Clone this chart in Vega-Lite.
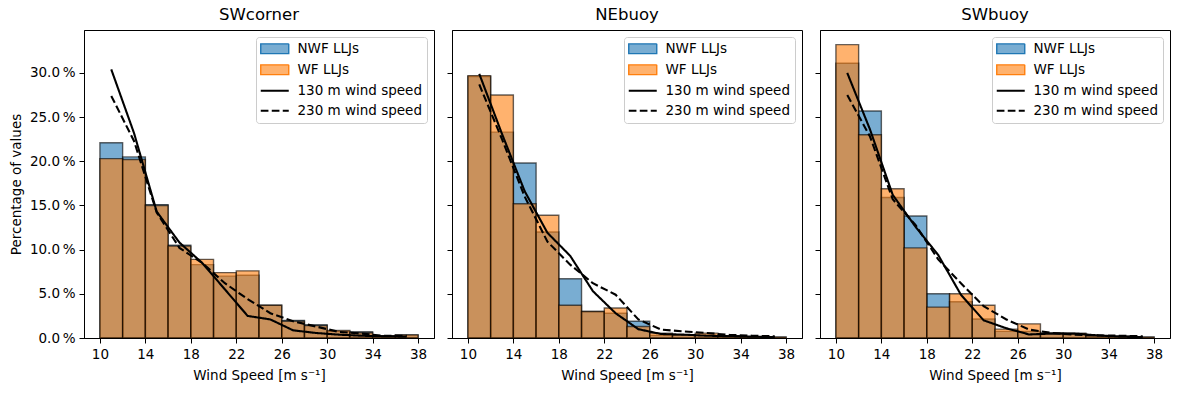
{
  "$schema": "https://vega.github.io/schema/vega-lite/v6.json",
  "padding": {"left": 8, "top": 6, "right": 5, "bottom": 5},
  "background": "white",
  "config": {
    "font": "DejaVu Sans",
    "view": {"stroke": "black", "strokeWidth": 1},
    "axis": {"grid": false, "labelFont": "DejaVu Sans", "titleFont": "DejaVu Sans", "labelFontSize": 13.5, "titleFontSize": 13.5, "titleFontWeight": "normal", "labelColor": "black", "titleColor": "black", "tickColor": "black", "domainColor": "black", "tickSize": 5, "labelPadding": 4, "domain": true},
    "title": {"font": "DejaVu Sans", "fontSize": 16.5, "fontWeight": "normal", "color": "black", "offset": 7},
    "legend": {"labelFont": "DejaVu Sans", "labelFontSize": 13.5, "labelColor": "black"}
  },
  "datasets": {
    "bars": [
      {"panel": "SWcorner", "series": "NWF LLJs", "x0": 10, "x1": 12, "pct": 22.1},
      {"panel": "SWcorner", "series": "NWF LLJs", "x0": 12, "x1": 14, "pct": 20.5},
      {"panel": "SWcorner", "series": "NWF LLJs", "x0": 14, "x1": 16, "pct": 15.1},
      {"panel": "SWcorner", "series": "NWF LLJs", "x0": 16, "x1": 18, "pct": 10.5},
      {"panel": "SWcorner", "series": "NWF LLJs", "x0": 18, "x1": 20, "pct": 8.3},
      {"panel": "SWcorner", "series": "NWF LLJs", "x0": 20, "x1": 22, "pct": 7.0},
      {"panel": "SWcorner", "series": "NWF LLJs", "x0": 22, "x1": 24, "pct": 7.1},
      {"panel": "SWcorner", "series": "NWF LLJs", "x0": 24, "x1": 26, "pct": 3.7},
      {"panel": "SWcorner", "series": "NWF LLJs", "x0": 26, "x1": 28, "pct": 2.0},
      {"panel": "SWcorner", "series": "NWF LLJs", "x0": 28, "x1": 30, "pct": 1.5},
      {"panel": "SWcorner", "series": "NWF LLJs", "x0": 30, "x1": 32, "pct": 0.75},
      {"panel": "SWcorner", "series": "NWF LLJs", "x0": 32, "x1": 34, "pct": 0.7},
      {"panel": "SWcorner", "series": "NWF LLJs", "x0": 34, "x1": 36, "pct": 0.25},
      {"panel": "SWcorner", "series": "NWF LLJs", "x0": 36, "x1": 38, "pct": 0.35},
      {"panel": "SWcorner", "series": "WF LLJs", "x0": 10, "x1": 12, "pct": 20.3},
      {"panel": "SWcorner", "series": "WF LLJs", "x0": 12, "x1": 14, "pct": 20.2},
      {"panel": "SWcorner", "series": "WF LLJs", "x0": 14, "x1": 16, "pct": 15.0},
      {"panel": "SWcorner", "series": "WF LLJs", "x0": 16, "x1": 18, "pct": 10.4},
      {"panel": "SWcorner", "series": "WF LLJs", "x0": 18, "x1": 20, "pct": 8.9},
      {"panel": "SWcorner", "series": "WF LLJs", "x0": 20, "x1": 22, "pct": 7.4},
      {"panel": "SWcorner", "series": "WF LLJs", "x0": 22, "x1": 24, "pct": 7.6},
      {"panel": "SWcorner", "series": "WF LLJs", "x0": 24, "x1": 26, "pct": 3.7},
      {"panel": "SWcorner", "series": "WF LLJs", "x0": 26, "x1": 28, "pct": 1.9},
      {"panel": "SWcorner", "series": "WF LLJs", "x0": 28, "x1": 30, "pct": 1.4},
      {"panel": "SWcorner", "series": "WF LLJs", "x0": 30, "x1": 32, "pct": 0.85},
      {"panel": "SWcorner", "series": "WF LLJs", "x0": 32, "x1": 34, "pct": 0.6},
      {"panel": "SWcorner", "series": "WF LLJs", "x0": 34, "x1": 36, "pct": 0.25},
      {"panel": "SWcorner", "series": "WF LLJs", "x0": 36, "x1": 38, "pct": 0.35},

      {"panel": "NEbuoy", "series": "NWF LLJs", "x0": 10, "x1": 12, "pct": 29.6},
      {"panel": "NEbuoy", "series": "NWF LLJs", "x0": 12, "x1": 14, "pct": 23.3},
      {"panel": "NEbuoy", "series": "NWF LLJs", "x0": 14, "x1": 16, "pct": 19.8},
      {"panel": "NEbuoy", "series": "NWF LLJs", "x0": 16, "x1": 18, "pct": 12.0},
      {"panel": "NEbuoy", "series": "NWF LLJs", "x0": 18, "x1": 20, "pct": 6.7},
      {"panel": "NEbuoy", "series": "NWF LLJs", "x0": 20, "x1": 22, "pct": 3.0},
      {"panel": "NEbuoy", "series": "NWF LLJs", "x0": 22, "x1": 24, "pct": 2.8},
      {"panel": "NEbuoy", "series": "NWF LLJs", "x0": 24, "x1": 26, "pct": 1.9},
      {"panel": "NEbuoy", "series": "NWF LLJs", "x0": 26, "x1": 28, "pct": 0.3},
      {"panel": "NEbuoy", "series": "NWF LLJs", "x0": 28, "x1": 30, "pct": 0.35},
      {"panel": "NEbuoy", "series": "NWF LLJs", "x0": 30, "x1": 32, "pct": 0.3},
      {"panel": "NEbuoy", "series": "NWF LLJs", "x0": 32, "x1": 34, "pct": 0.25},
      {"panel": "NEbuoy", "series": "NWF LLJs", "x0": 34, "x1": 36, "pct": 0.15},
      {"panel": "NEbuoy", "series": "NWF LLJs", "x0": 36, "x1": 38, "pct": 0.1},
      {"panel": "NEbuoy", "series": "WF LLJs", "x0": 10, "x1": 12, "pct": 29.7},
      {"panel": "NEbuoy", "series": "WF LLJs", "x0": 12, "x1": 14, "pct": 27.5},
      {"panel": "NEbuoy", "series": "WF LLJs", "x0": 14, "x1": 16, "pct": 15.2},
      {"panel": "NEbuoy", "series": "WF LLJs", "x0": 16, "x1": 18, "pct": 13.9},
      {"panel": "NEbuoy", "series": "WF LLJs", "x0": 18, "x1": 20, "pct": 3.7},
      {"panel": "NEbuoy", "series": "WF LLJs", "x0": 20, "x1": 22, "pct": 3.0},
      {"panel": "NEbuoy", "series": "WF LLJs", "x0": 22, "x1": 24, "pct": 3.4},
      {"panel": "NEbuoy", "series": "WF LLJs", "x0": 24, "x1": 26, "pct": 1.3},
      {"panel": "NEbuoy", "series": "WF LLJs", "x0": 26, "x1": 28, "pct": 0.55},
      {"panel": "NEbuoy", "series": "WF LLJs", "x0": 28, "x1": 30, "pct": 0.35},
      {"panel": "NEbuoy", "series": "WF LLJs", "x0": 30, "x1": 32, "pct": 0.55},
      {"panel": "NEbuoy", "series": "WF LLJs", "x0": 32, "x1": 34, "pct": 0.25},
      {"panel": "NEbuoy", "series": "WF LLJs", "x0": 34, "x1": 36, "pct": 0.15},
      {"panel": "NEbuoy", "series": "WF LLJs", "x0": 36, "x1": 38, "pct": 0.1},

      {"panel": "SWbuoy", "series": "NWF LLJs", "x0": 10, "x1": 12, "pct": 31.1},
      {"panel": "SWbuoy", "series": "NWF LLJs", "x0": 12, "x1": 14, "pct": 25.7},
      {"panel": "SWbuoy", "series": "NWF LLJs", "x0": 14, "x1": 16, "pct": 15.9},
      {"panel": "SWbuoy", "series": "NWF LLJs", "x0": 16, "x1": 18, "pct": 13.8},
      {"panel": "SWbuoy", "series": "NWF LLJs", "x0": 18, "x1": 20, "pct": 5.0},
      {"panel": "SWbuoy", "series": "NWF LLJs", "x0": 20, "x1": 22, "pct": 4.1},
      {"panel": "SWbuoy", "series": "NWF LLJs", "x0": 22, "x1": 24, "pct": 2.15},
      {"panel": "SWbuoy", "series": "NWF LLJs", "x0": 24, "x1": 26, "pct": 0.75},
      {"panel": "SWbuoy", "series": "NWF LLJs", "x0": 26, "x1": 28, "pct": 0.75},
      {"panel": "SWbuoy", "series": "NWF LLJs", "x0": 28, "x1": 30, "pct": 0.55},
      {"panel": "SWbuoy", "series": "NWF LLJs", "x0": 30, "x1": 32, "pct": 0.5},
      {"panel": "SWbuoy", "series": "NWF LLJs", "x0": 32, "x1": 34, "pct": 0.25},
      {"panel": "SWbuoy", "series": "NWF LLJs", "x0": 34, "x1": 36, "pct": 0.2},
      {"panel": "SWbuoy", "series": "NWF LLJs", "x0": 36, "x1": 38, "pct": 0.1},
      {"panel": "SWbuoy", "series": "WF LLJs", "x0": 10, "x1": 12, "pct": 33.2},
      {"panel": "SWbuoy", "series": "WF LLJs", "x0": 12, "x1": 14, "pct": 23.0},
      {"panel": "SWbuoy", "series": "WF LLJs", "x0": 14, "x1": 16, "pct": 16.9},
      {"panel": "SWbuoy", "series": "WF LLJs", "x0": 16, "x1": 18, "pct": 10.2},
      {"panel": "SWbuoy", "series": "WF LLJs", "x0": 18, "x1": 20, "pct": 3.5},
      {"panel": "SWbuoy", "series": "WF LLJs", "x0": 20, "x1": 22, "pct": 5.0},
      {"panel": "SWbuoy", "series": "WF LLJs", "x0": 22, "x1": 24, "pct": 3.7},
      {"panel": "SWbuoy", "series": "WF LLJs", "x0": 24, "x1": 26, "pct": 1.0},
      {"panel": "SWbuoy", "series": "WF LLJs", "x0": 26, "x1": 28, "pct": 1.6},
      {"panel": "SWbuoy", "series": "WF LLJs", "x0": 28, "x1": 30, "pct": 0.55},
      {"panel": "SWbuoy", "series": "WF LLJs", "x0": 30, "x1": 32, "pct": 0.55},
      {"panel": "SWbuoy", "series": "WF LLJs", "x0": 32, "x1": 34, "pct": 0.25},
      {"panel": "SWbuoy", "series": "WF LLJs", "x0": 34, "x1": 36, "pct": 0.2},
      {"panel": "SWbuoy", "series": "WF LLJs", "x0": 36, "x1": 38, "pct": 0.1}
    ],
    "lines": [
      {"panel": "SWcorner", "series": "130 m wind speed", "x": 11, "pct": 30.4},
      {"panel": "SWcorner", "series": "130 m wind speed", "x": 13, "pct": 23.2},
      {"panel": "SWcorner", "series": "130 m wind speed", "x": 15, "pct": 14.3},
      {"panel": "SWcorner", "series": "130 m wind speed", "x": 17, "pct": 10.8},
      {"panel": "SWcorner", "series": "130 m wind speed", "x": 19, "pct": 8.5},
      {"panel": "SWcorner", "series": "130 m wind speed", "x": 21, "pct": 5.5},
      {"panel": "SWcorner", "series": "130 m wind speed", "x": 23, "pct": 2.5},
      {"panel": "SWcorner", "series": "130 m wind speed", "x": 25, "pct": 2.1},
      {"panel": "SWcorner", "series": "130 m wind speed", "x": 27, "pct": 0.87},
      {"panel": "SWcorner", "series": "130 m wind speed", "x": 29, "pct": 0.57},
      {"panel": "SWcorner", "series": "130 m wind speed", "x": 31, "pct": 0.38},
      {"panel": "SWcorner", "series": "130 m wind speed", "x": 33, "pct": 0.26},
      {"panel": "SWcorner", "series": "130 m wind speed", "x": 35, "pct": 0.18},
      {"panel": "SWcorner", "series": "130 m wind speed", "x": 37, "pct": 0.15},
      {"panel": "SWcorner", "series": "230 m wind speed", "x": 11, "pct": 27.4},
      {"panel": "SWcorner", "series": "230 m wind speed", "x": 13, "pct": 22.3},
      {"panel": "SWcorner", "series": "230 m wind speed", "x": 15, "pct": 14.2},
      {"panel": "SWcorner", "series": "230 m wind speed", "x": 17, "pct": 10.2},
      {"panel": "SWcorner", "series": "230 m wind speed", "x": 19, "pct": 8.5},
      {"panel": "SWcorner", "series": "230 m wind speed", "x": 21, "pct": 6.2},
      {"panel": "SWcorner", "series": "230 m wind speed", "x": 23, "pct": 4.4},
      {"panel": "SWcorner", "series": "230 m wind speed", "x": 25, "pct": 2.8},
      {"panel": "SWcorner", "series": "230 m wind speed", "x": 27, "pct": 1.9},
      {"panel": "SWcorner", "series": "230 m wind speed", "x": 29, "pct": 1.3},
      {"panel": "SWcorner", "series": "230 m wind speed", "x": 31, "pct": 0.7},
      {"panel": "SWcorner", "series": "230 m wind speed", "x": 33, "pct": 0.5},
      {"panel": "SWcorner", "series": "230 m wind speed", "x": 35, "pct": 0.25},
      {"panel": "SWcorner", "series": "230 m wind speed", "x": 37, "pct": 0.25},

      {"panel": "NEbuoy", "series": "130 m wind speed", "x": 11, "pct": 29.9},
      {"panel": "NEbuoy", "series": "130 m wind speed", "x": 13, "pct": 23.1},
      {"panel": "NEbuoy", "series": "130 m wind speed", "x": 15, "pct": 16.6},
      {"panel": "NEbuoy", "series": "130 m wind speed", "x": 17, "pct": 11.9},
      {"panel": "NEbuoy", "series": "130 m wind speed", "x": 19, "pct": 9.3},
      {"panel": "NEbuoy", "series": "130 m wind speed", "x": 21, "pct": 5.3},
      {"panel": "NEbuoy", "series": "130 m wind speed", "x": 23, "pct": 2.8},
      {"panel": "NEbuoy", "series": "130 m wind speed", "x": 25, "pct": 1.0},
      {"panel": "NEbuoy", "series": "130 m wind speed", "x": 27, "pct": 0.45},
      {"panel": "NEbuoy", "series": "130 m wind speed", "x": 29, "pct": 0.38},
      {"panel": "NEbuoy", "series": "130 m wind speed", "x": 31, "pct": 0.26},
      {"panel": "NEbuoy", "series": "130 m wind speed", "x": 33, "pct": 0.2},
      {"panel": "NEbuoy", "series": "130 m wind speed", "x": 35, "pct": 0.15},
      {"panel": "NEbuoy", "series": "130 m wind speed", "x": 37, "pct": 0.1},
      {"panel": "NEbuoy", "series": "230 m wind speed", "x": 11, "pct": 28.7},
      {"panel": "NEbuoy", "series": "230 m wind speed", "x": 13, "pct": 22.5},
      {"panel": "NEbuoy", "series": "230 m wind speed", "x": 15, "pct": 16.0},
      {"panel": "NEbuoy", "series": "230 m wind speed", "x": 17, "pct": 10.9},
      {"panel": "NEbuoy", "series": "230 m wind speed", "x": 19, "pct": 8.3},
      {"panel": "NEbuoy", "series": "230 m wind speed", "x": 21, "pct": 6.2},
      {"panel": "NEbuoy", "series": "230 m wind speed", "x": 23, "pct": 4.9},
      {"panel": "NEbuoy", "series": "230 m wind speed", "x": 25, "pct": 2.1},
      {"panel": "NEbuoy", "series": "230 m wind speed", "x": 27, "pct": 0.95},
      {"panel": "NEbuoy", "series": "230 m wind speed", "x": 29, "pct": 0.75},
      {"panel": "NEbuoy", "series": "230 m wind speed", "x": 31, "pct": 0.57},
      {"panel": "NEbuoy", "series": "230 m wind speed", "x": 33, "pct": 0.35},
      {"panel": "NEbuoy", "series": "230 m wind speed", "x": 35, "pct": 0.26},
      {"panel": "NEbuoy", "series": "230 m wind speed", "x": 37, "pct": 0.2},

      {"panel": "SWbuoy", "series": "130 m wind speed", "x": 11, "pct": 30.0},
      {"panel": "SWbuoy", "series": "130 m wind speed", "x": 13, "pct": 23.6},
      {"panel": "SWbuoy", "series": "130 m wind speed", "x": 15, "pct": 16.2},
      {"panel": "SWbuoy", "series": "130 m wind speed", "x": 17, "pct": 12.6},
      {"panel": "SWbuoy", "series": "130 m wind speed", "x": 19, "pct": 9.4},
      {"panel": "SWbuoy", "series": "130 m wind speed", "x": 21, "pct": 4.9},
      {"panel": "SWbuoy", "series": "130 m wind speed", "x": 23, "pct": 2.0},
      {"panel": "SWbuoy", "series": "130 m wind speed", "x": 25, "pct": 1.1},
      {"panel": "SWbuoy", "series": "130 m wind speed", "x": 27, "pct": 0.4},
      {"panel": "SWbuoy", "series": "130 m wind speed", "x": 29, "pct": 0.5},
      {"panel": "SWbuoy", "series": "130 m wind speed", "x": 31, "pct": 0.5},
      {"panel": "SWbuoy", "series": "130 m wind speed", "x": 33, "pct": 0.3},
      {"panel": "SWbuoy", "series": "130 m wind speed", "x": 35, "pct": 0.15},
      {"panel": "SWbuoy", "series": "130 m wind speed", "x": 37, "pct": 0.1},
      {"panel": "SWbuoy", "series": "230 m wind speed", "x": 11, "pct": 27.5},
      {"panel": "SWbuoy", "series": "230 m wind speed", "x": 13, "pct": 22.8},
      {"panel": "SWbuoy", "series": "230 m wind speed", "x": 15, "pct": 15.7},
      {"panel": "SWbuoy", "series": "230 m wind speed", "x": 17, "pct": 12.8},
      {"panel": "SWbuoy", "series": "230 m wind speed", "x": 19, "pct": 8.9},
      {"panel": "SWbuoy", "series": "230 m wind speed", "x": 21, "pct": 6.2},
      {"panel": "SWbuoy", "series": "230 m wind speed", "x": 23, "pct": 3.6},
      {"panel": "SWbuoy", "series": "230 m wind speed", "x": 25, "pct": 2.1},
      {"panel": "SWbuoy", "series": "230 m wind speed", "x": 27, "pct": 0.95},
      {"panel": "SWbuoy", "series": "230 m wind speed", "x": 29, "pct": 0.57},
      {"panel": "SWbuoy", "series": "230 m wind speed", "x": 31, "pct": 0.38},
      {"panel": "SWbuoy", "series": "230 m wind speed", "x": 33, "pct": 0.3},
      {"panel": "SWbuoy", "series": "230 m wind speed", "x": 35, "pct": 0.26},
      {"panel": "SWbuoy", "series": "230 m wind speed", "x": 37, "pct": 0.2}
    ]
  },
  "spacing": 18,
  "bounds": "flush",
  "resolve": {"scale": {"color": "independent", "strokeDash": "independent"}, "legend": {"color": "independent"}},
  "hconcat": [
    {
      "width": 350, "height": 308,
      "title": {"text": "SWcorner"},
      "encoding": {
        "color": {"field": "series", "type": "nominal", "scale": {"domain": ["NWF LLJs", "WF LLJs", "130 m wind speed", "230 m wind speed"], "range": ["#1f77b4", "#ff7f0e", "black", "black"]},
          "legend": {"title": null, "orient": "top-right", "offset": 7, "padding": 5, "strokeColor": "#cccccc", "fillColor": "rgba(255,255,255,0.8)", "cornerRadius": 3, "rowPadding": 5, "symbolSize": 196, "labelOffset": 23, "labelLimit": 300,
            "encode": {"symbols": {"update": {
              "shape": {"signal": "datum.value == 'NWF LLJs' || datum.value == 'WF LLJs' ? 'M-1,-0.7H3V0.7H-1Z' : 'M-1,0H3'"},
              "fill": {"signal": "datum.value == 'NWF LLJs' ? '#1f77b4' : datum.value == 'WF LLJs' ? '#ff7f0e' : 'transparent'"},
              "fillOpacity": {"value": 0.6},
              "stroke": {"signal": "datum.value == 'NWF LLJs' || datum.value == 'WF LLJs' ? '#555555' : 'black'"},
              "strokeOpacity": {"value": 1},
              "strokeWidth": {"signal": "datum.value == 'NWF LLJs' || datum.value == 'WF LLJs' ? 1.4 : 2.1"},
              "strokeDash": {"signal": "datum.value == '230 m wind speed' ? [7.7, 3.3] : [1, 0]"},
              "opacity": {"value": 1}
            }}}}}
      },
      "layer": [
        {
          "data": {"name": "bars"},
          "transform": [{"filter": "datum.panel == 'SWcorner'"}],
          "mark": {"type": "bar", "fillOpacity": 0.6, "stroke": "black", "strokeOpacity": 0.6, "strokeWidth": 1.4},
          "encoding": {
            "x": {"field": "x0", "type": "quantitative", "scale": {"domain": [8.6, 39.4], "nice": false, "zero": false}, "axis": {"values": [10, 14, 18, 22, 26, 30, 34, 38], "title": "Wind Speed [m s⁻¹]", "titlePadding": 8}},
            "x2": {"field": "x1"},
            "y": {"field": "pct", "type": "quantitative", "stack": null, "scale": {"domain": [0, 34.86], "nice": false}, "axis": {"values": [0, 5, 10, 15, 20, 25, 30], "labelExpr": "format(datum.value, '.1f') + '\u2009%'", "title": "Percentage of values", "titlePadding": 6}},
            "y2": {"datum": 0}
          }
        },
        {
          "data": {"name": "lines"},
          "transform": [{"filter": "datum.panel == 'SWcorner'"}],
          "mark": {"type": "line", "strokeWidth": 2.1},
          "encoding": {
            "x": {"field": "x", "type": "quantitative"},
            "y": {"field": "pct", "type": "quantitative"},
            "strokeDash": {"field": "series", "type": "nominal", "scale": {"domain": ["130 m wind speed", "230 m wind speed"], "range": [[1, 0], [7.7, 3.3]]}, "legend": null}
          }
        }
      ]
    },
    {
      "width": 350, "height": 308,
      "title": {"text": "NEbuoy"},
      "encoding": {
        "color": {"field": "series", "type": "nominal", "scale": {"domain": ["NWF LLJs", "WF LLJs", "130 m wind speed", "230 m wind speed"], "range": ["#1f77b4", "#ff7f0e", "black", "black"]},
          "legend": {"title": null, "orient": "top-right", "offset": 7, "padding": 5, "strokeColor": "#cccccc", "fillColor": "rgba(255,255,255,0.8)", "cornerRadius": 3, "rowPadding": 5, "symbolSize": 196, "labelOffset": 23, "labelLimit": 300,
            "encode": {"symbols": {"update": {
              "shape": {"signal": "datum.value == 'NWF LLJs' || datum.value == 'WF LLJs' ? 'M-1,-0.7H3V0.7H-1Z' : 'M-1,0H3'"},
              "fill": {"signal": "datum.value == 'NWF LLJs' ? '#1f77b4' : datum.value == 'WF LLJs' ? '#ff7f0e' : 'transparent'"},
              "fillOpacity": {"value": 0.6},
              "stroke": {"signal": "datum.value == 'NWF LLJs' || datum.value == 'WF LLJs' ? '#555555' : 'black'"},
              "strokeOpacity": {"value": 1},
              "strokeWidth": {"signal": "datum.value == 'NWF LLJs' || datum.value == 'WF LLJs' ? 1.4 : 2.1"},
              "strokeDash": {"signal": "datum.value == '230 m wind speed' ? [7.7, 3.3] : [1, 0]"},
              "opacity": {"value": 1}
            }}}}}
      },
      "layer": [
        {
          "data": {"name": "bars"},
          "transform": [{"filter": "datum.panel == 'NEbuoy'"}],
          "mark": {"type": "bar", "fillOpacity": 0.6, "stroke": "black", "strokeOpacity": 0.6, "strokeWidth": 1.4},
          "encoding": {
            "x": {"field": "x0", "type": "quantitative", "scale": {"domain": [8.6, 39.4], "nice": false, "zero": false}, "axis": {"values": [10, 14, 18, 22, 26, 30, 34, 38], "title": "Wind Speed [m s⁻¹]", "titlePadding": 8}},
            "x2": {"field": "x1"},
            "y": {"field": "pct", "type": "quantitative", "stack": null, "scale": {"domain": [0, 34.86], "nice": false}, "axis": {"values": [0, 5, 10, 15, 20, 25, 30], "labels": false, "title": null}},
            "y2": {"datum": 0}
          }
        },
        {
          "data": {"name": "lines"},
          "transform": [{"filter": "datum.panel == 'NEbuoy'"}],
          "mark": {"type": "line", "strokeWidth": 2.1},
          "encoding": {
            "x": {"field": "x", "type": "quantitative"},
            "y": {"field": "pct", "type": "quantitative"},
            "strokeDash": {"field": "series", "type": "nominal", "scale": {"domain": ["130 m wind speed", "230 m wind speed"], "range": [[1, 0], [7.7, 3.3]]}, "legend": null}
          }
        }
      ]
    },
    {
      "width": 350, "height": 308,
      "title": {"text": "SWbuoy"},
      "encoding": {
        "color": {"field": "series", "type": "nominal", "scale": {"domain": ["NWF LLJs", "WF LLJs", "130 m wind speed", "230 m wind speed"], "range": ["#1f77b4", "#ff7f0e", "black", "black"]},
          "legend": {"title": null, "orient": "top-right", "offset": 7, "padding": 5, "strokeColor": "#cccccc", "fillColor": "rgba(255,255,255,0.8)", "cornerRadius": 3, "rowPadding": 5, "symbolSize": 196, "labelOffset": 23, "labelLimit": 300,
            "encode": {"symbols": {"update": {
              "shape": {"signal": "datum.value == 'NWF LLJs' || datum.value == 'WF LLJs' ? 'M-1,-0.7H3V0.7H-1Z' : 'M-1,0H3'"},
              "fill": {"signal": "datum.value == 'NWF LLJs' ? '#1f77b4' : datum.value == 'WF LLJs' ? '#ff7f0e' : 'transparent'"},
              "fillOpacity": {"value": 0.6},
              "stroke": {"signal": "datum.value == 'NWF LLJs' || datum.value == 'WF LLJs' ? '#555555' : 'black'"},
              "strokeOpacity": {"value": 1},
              "strokeWidth": {"signal": "datum.value == 'NWF LLJs' || datum.value == 'WF LLJs' ? 1.4 : 2.1"},
              "strokeDash": {"signal": "datum.value == '230 m wind speed' ? [7.7, 3.3] : [1, 0]"},
              "opacity": {"value": 1}
            }}}}}
      },
      "layer": [
        {
          "data": {"name": "bars"},
          "transform": [{"filter": "datum.panel == 'SWbuoy'"}],
          "mark": {"type": "bar", "fillOpacity": 0.6, "stroke": "black", "strokeOpacity": 0.6, "strokeWidth": 1.4},
          "encoding": {
            "x": {"field": "x0", "type": "quantitative", "scale": {"domain": [8.6, 39.4], "nice": false, "zero": false}, "axis": {"values": [10, 14, 18, 22, 26, 30, 34, 38], "title": "Wind Speed [m s⁻¹]", "titlePadding": 8}},
            "x2": {"field": "x1"},
            "y": {"field": "pct", "type": "quantitative", "stack": null, "scale": {"domain": [0, 34.86], "nice": false}, "axis": {"values": [0, 5, 10, 15, 20, 25, 30], "labels": false, "title": null}},
            "y2": {"datum": 0}
          }
        },
        {
          "data": {"name": "lines"},
          "transform": [{"filter": "datum.panel == 'SWbuoy'"}],
          "mark": {"type": "line", "strokeWidth": 2.1},
          "encoding": {
            "x": {"field": "x", "type": "quantitative"},
            "y": {"field": "pct", "type": "quantitative"},
            "strokeDash": {"field": "series", "type": "nominal", "scale": {"domain": ["130 m wind speed", "230 m wind speed"], "range": [[1, 0], [7.7, 3.3]]}, "legend": null}
          }
        }
      ]
    }
  ]
}
